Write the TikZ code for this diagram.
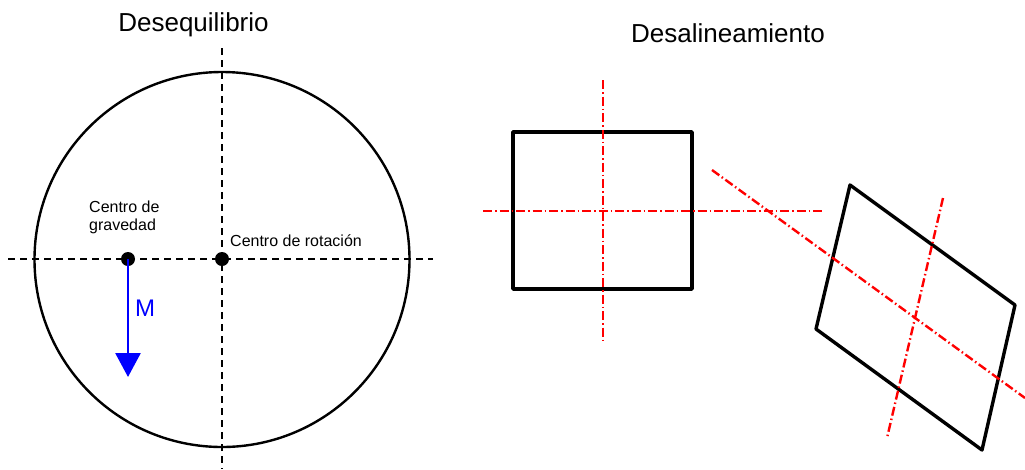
\documentclass[tikz,border=0pt]{standalone}
\usepackage{fontspec}
\setmainfont{Liberation Sans}
\usetikzlibrary{arrows.meta}
\begin{document}
\begin{tikzpicture}[x=1pt,y=-1pt,
  axisblack/.style={black,line width=1.4pt,dash pattern=on 7pt off 5pt},
  axisred/.style={red,line width=2.4pt,dash pattern=on 9pt off 3pt on 1.5pt off 3pt},
  body/.style={black,line width=3.4pt,line join=round},
  dotnode/.style={circle,fill=black,inner sep=0pt,minimum size=14pt},
  lbl/.style={font=\fontsize{16}{17}\selectfont,inner sep=0pt,align=left},
  title/.style={font=\fontsize{26}{30}\selectfont,inner sep=0pt}]
\useasboundingbox (0,0) rectangle (1025,469);
% titles
\node[title] (t1) at (193.5,25) {Desequilibrio};
\node[title] (t2) at (728,33) {Desalineamiento};
% left: unbalance
\draw[black,line width=2.4pt] (222,259.5) circle (187.5);
\coordinate (hl) at (8,259);
\coordinate (hr) at (433,259);
\coordinate (vt) at (222,48);
\coordinate (vb) at (222,469);
\draw[axisblack] (hl) -- (hr);
\draw[axisblack] (vt) -- (vb);
\node[dotnode] (cg) at (128,259) {};
\node[dotnode] (cr) at (222,259) {};
\coordinate (mtip) at (128,377);
\draw[blue,line width=2.8pt,-{Triangle[length=24pt,width=25pt]}] (cg.center) -- (mtip);
\node[blue,font=\fontsize{24}{28}\selectfont,anchor=west,inner sep=0pt] (m) at (135,308) {M};
\node[lbl,anchor=north west] (tcg) at (89,201) {Centro de\\[1pt]gravedad};
\node[lbl,anchor=west] (tcr) at (230,241) {Centro de rotación};
% right: misalignment
\coordinate (ra) at (513,132);
\coordinate (rb) at (692,289);
\draw[body] (ra) rectangle (rb);
\coordinate (v1) at (603,80);
\coordinate (v2) at (603,341);
\coordinate (h1) at (483,211);
\coordinate (h2) at (823,211);
\draw[axisred] (v1) -- (v2);
\draw[axisred] (h1) -- (h2);
\coordinate (p1) at (850,185);
\coordinate (p2) at (1015,305);
\coordinate (p3) at (982,450);
\coordinate (p4) at (816,329);
\draw[body] (p1) -- (p2) -- (p3) -- (p4) -- cycle;
\coordinate (d1) at (712,170);
\coordinate (d2) at (1025,398);
\coordinate (e1) at (943,198);
\coordinate (e2) at (887,438);
\draw[axisred] (d1) -- (d2);
\draw[axisred] (e1) -- (e2);
\end{tikzpicture}
\end{document}
